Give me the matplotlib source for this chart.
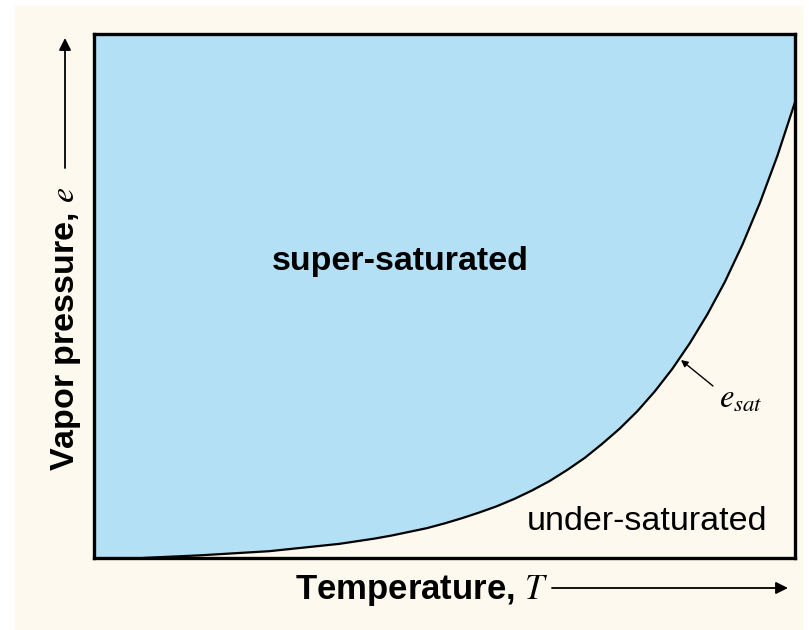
import numpy as np
import matplotlib
matplotlib.use('Agg')
import matplotlib.pyplot as plt
from matplotlib.patches import Rectangle, FancyArrowPatch

plt.rcParams['mathtext.fontset'] = 'stix'

# saturation vapor pressure curve (0-1 on both axes)
temp = [0.0, 0.07, 0.10, 0.15, 0.20, 0.25, 0.30, 0.35, 0.375, 0.40, 0.425,
        0.45, 0.475, 0.50, 0.525, 0.55, 0.575, 0.60, 0.625, 0.65, 0.675,
        0.70, 0.725, 0.75, 0.775, 0.80, 0.825, 0.85, 0.875, 0.90, 0.925,
        0.95, 0.975, 1.00]
e_sat = [0.0, 0.0, 0.002, 0.005, 0.009, 0.013, 0.020, 0.027, 0.032, 0.037,
         0.043, 0.050, 0.057, 0.066, 0.076, 0.087, 0.099, 0.113, 0.129,
         0.147, 0.168, 0.191, 0.218, 0.247, 0.280, 0.318, 0.361, 0.410,
         0.465, 0.527, 0.598, 0.678, 0.768, 0.870]

region_labels = ['super-saturated', 'under-saturated']

blue = '#b3e0f4'
cream = '#fef9ee'

W, H = 809, 630
fig = plt.figure(figsize=(W / 100, H / 100), dpi=100)
fig.patch.set_facecolor('white')

def fx(px):
    return px / W

def fy(py):
    return 1 - py / H

# cream panel behind everything
fig.patches.append(Rectangle((fx(15), 0), fx(802) - fx(15), fy(6),
                             transform=fig.transFigure, color=cream, zorder=-5))

ax = fig.add_axes([fx(94), fy(558), fx(795) - fx(94), fy(34) - fy(558)])
ax.set_zorder(1)
ax.set_facecolor(cream)
ax.fill_between(temp, e_sat, 1, color=blue, linewidth=0)
ax.plot(temp[1:], e_sat[1:], color='black', linewidth=1.6, solid_joinstyle='round')
ax.set_xlim(0, 1)
ax.set_ylim(0, 1)
ax.set_xticks([])
ax.set_yticks([])
for s in ax.spines.values():
    s.set_linewidth(2.4)
    s.set_color('black')

# region labels
ax.text(fx(400), fy(261), region_labels[0], transform=fig.transFigure,
        ha='center', va='center', fontsize=24.5, fontweight='bold',
        family='Liberation Sans')
ax.text(fx(647), fy(522), region_labels[1], transform=fig.transFigure,
        ha='center', va='center', fontsize=24.5, family='Liberation Sans')

# e_sat label and pointer
ax.text(fx(719), fy(398), r'$e_{sat}$', transform=fig.transFigure,
        ha='left', va='center', fontsize=23.5)
ax.annotate('', xy=(fx(681), fy(360)), xytext=(fx(713), fy(386)),
            xycoords='figure fraction', textcoords='figure fraction',
            arrowprops=dict(arrowstyle='-|>', color='black', lw=1.0,
                            mutation_scale=10, shrinkA=0, shrinkB=0))

# axis labels with arrows
fig.text(fx(295), fy(591), 'Temperature, $T$', ha='left', va='center',
         fontsize=25, fontweight='bold', family='Liberation Sans')
fig.add_artist(FancyArrowPatch(
    (fx(552), fy(588)), (fx(788), fy(588)), transform=fig.transFigure,
    arrowstyle='-|>', color='black', lw=1.3, mutation_scale=18,
    shrinkA=0, shrinkB=0))

fig.text(fx(66), fy(187), 'Vapor pressure, $e$', ha='center', va='top',
         rotation=90, fontsize=24.5, fontweight='bold', family='Liberation Sans')
fig.add_artist(FancyArrowPatch(
    (fx(65), fy(168)), (fx(65), fy(38)), transform=fig.transFigure,
    arrowstyle='-|>', color='black', lw=1.3, mutation_scale=18,
    shrinkA=0, shrinkB=0))

fig.savefig('out.png', dpi=100)
